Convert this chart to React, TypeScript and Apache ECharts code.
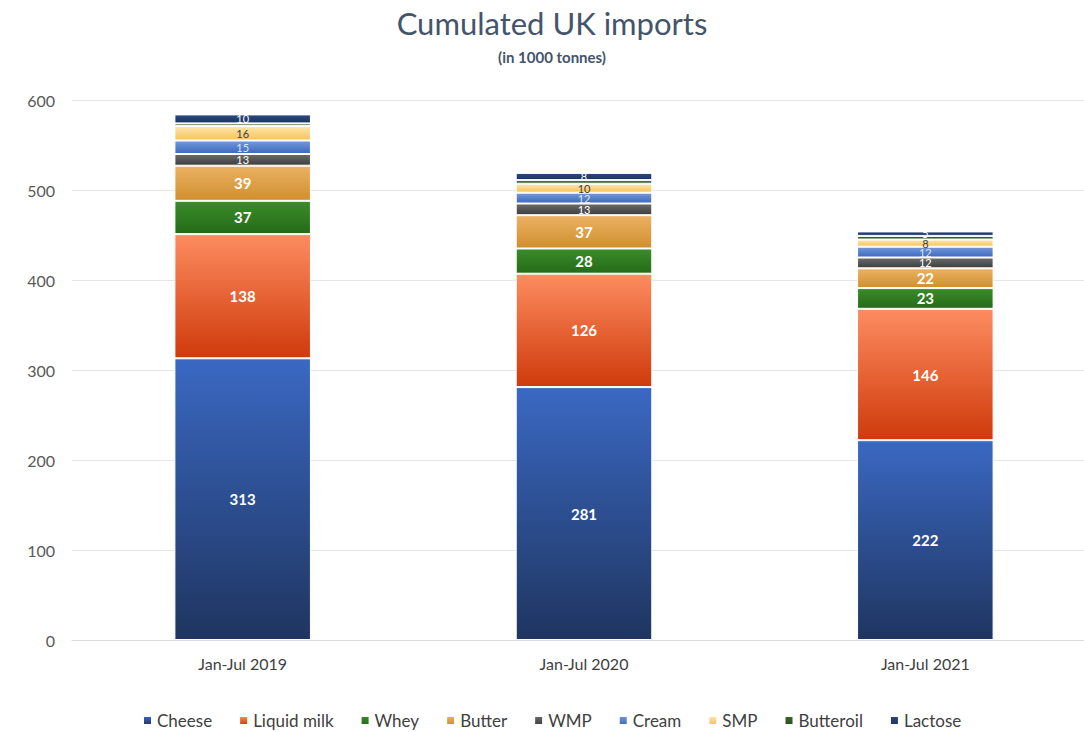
import React, { useEffect, useRef } from "react";
import * as echarts from "echarts";

const categories = ["Jan-Jul 2019", "Jan-Jul 2020", "Jan-Jul 2021"];
const cheese = [313, 281, 222];
const liquidMilk = [138, 126, 146];
const whey = [37, 28, 23];
const butter = [39, 37, 22];
const wmp = [13, 13, 12];
const cream = [15, 12, 12];
const smp = [16, 10, 8];
const butteroil = [3, 4, 4];
const lactose = [10, 8, 5];

const FONT = "Lato, 'Open Sans', sans-serif";

function grad(top: string, bottom: string) {
  return new echarts.graphic.LinearGradient(0, 0, 0, 1, [
    { offset: 0, color: top },
    { offset: 1, color: bottom },
  ]);
}

export default function App() {
  const ref = useRef<HTMLDivElement>(null);
  useEffect(() => {
    if (!ref.current) return;
    const chart = echarts.init(ref.current, undefined, { renderer: "svg" });
    const bigLabel = {
      show: true,
      color: "#ffffff",
      fontWeight: "bold" as const,
      fontSize: 15,
      fontFamily: FONT,
    };
    const smallLabel = (color: string) => ({
      show: true,
      color,
      fontSize: 11,
      fontFamily: FONT,
    });
    const mk = (
      name: string,
      data: number[],
      legendColor: string,
      top: string,
      bottom: string,
      label: any
    ) => ({
      name,
      type: "bar",
      stack: "total",
      data,
      barCategoryGap: "60%",
      color: legendColor,
      itemStyle: {
        color: grad(top, bottom),
        borderColor: "#ffffff",
        borderWidth: 1,
      },
      label: { ...label, position: "inside" },
    });
    chart.setOption({
      animation: false,
      title: {
        text: "Cumulated UK imports",
        subtext: "(in 1000 tonnes)",
        left: 547,
        textAlign: "center",
        top: 2,
        itemGap: 11,
        textStyle: { fontFamily: FONT, fontSize: 31, fontWeight: "normal", color: "#44546a" },
        subtextStyle: { fontFamily: FONT, fontSize: 15, fontWeight: "bold", color: "#44546a" },
      },
      legend: {
        bottom: -2,
        left: 137,
        itemWidth: 9,
        itemHeight: 9,
        itemGap: 26,
        icon: "rect",
        textStyle: { fontFamily: FONT, fontSize: 17, color: "#404040" },
      },
      grid: { left: 72, right: 4, top: 100, bottom: 92 },
      xAxis: {
        type: "category",
        data: categories,
        axisLine: { lineStyle: { color: "#d9d9d9" } },
        axisTick: { show: false },
        axisLabel: { fontFamily: FONT, fontSize: 16, color: "#404040", margin: 15 },
      },
      yAxis: {
        type: "value",
        min: 0,
        max: 600,
        interval: 100,
        axisLabel: { fontFamily: FONT, fontSize: 16, color: "#595959", margin: 17 },
        splitLine: { lineStyle: { color: "#e6e6e6" } },
      },
      series: [
        mk("Cheese", cheese, "#2f55a4", "#3a68c2", "#1f3560", bigLabel),
        mk("Liquid milk", liquidMilk, "#e8552a", "#fd8c60", "#cf3a0b", bigLabel),
        mk("Whey", whey, "#2e7d1f", "#3a8c2a", "#256b18", bigLabel),
        mk("Butter", butter, "#d9942f", "#ebb262", "#d08f2e", bigLabel),
        mk("WMP", wmp, "#555555", "#6b6b6b", "#3e3e3e", smallLabel("#ffffff")),
        mk("Cream", cream, "#4f7ccc", "#7499d9", "#3c69bf", smallLabel("#dbe6f7")),
        mk("SMP", smp, "#f9d27c", "#fde6ac", "#f6c25c", smallLabel("#404040")),
        mk("Butteroil", butteroil, "#2f5a1e", "#3d6a28", "#2a4f1a", { show: false }),
        mk("Lactose", lactose, "#1f3864", "#2b4a80", "#1c3360", smallLabel("#ffffff")),
      ],
    });
    return () => chart.dispose();
  }, []);
  return (
    <div
      style={{
        position: "fixed",
        left: 0,
        top: 0,
        width: 1084,
        height: 732,
        overflow: "hidden",
        background: "#ffffff",
      }}
    >
      <div ref={ref} style={{ width: 1100, height: 732 }} />
    </div>
  );
}
